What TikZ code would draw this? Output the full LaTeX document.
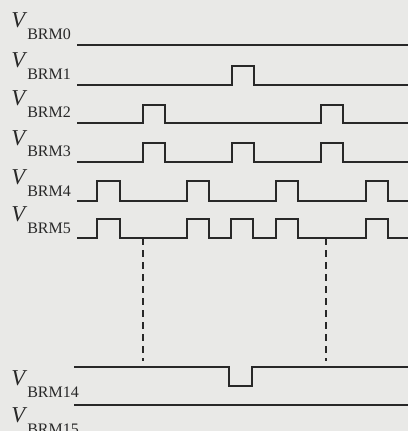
\documentclass[tikz,border=0pt]{standalone}
\usepackage{fontspec}
\setmainfont{Liberation Serif}
\definecolor{paper}{RGB}{233,233,231}
\definecolor{ink}{RGB}{40,40,40}
\newcommand{\vbrm}[1]{{\fontsize{17}{17}\selectfont\textit{V}}\raisebox{-9pt}{\fontsize{12}{12}\selectfont BRM#1}}
\tikzset{
  sig/.style={draw=ink,line width=1.6pt,line join=miter},
  lbl/.style={anchor=base west,inner sep=0pt,text=ink},
  guide/.style={draw=ink,line width=1.1pt,dash pattern=on 5pt off 4pt}
}
\begin{document}
\begin{tikzpicture}[x=0.75pt,y=-0.75pt]
\useasboundingbox[fill=paper] (0,0) rectangle (408,431);

\node[lbl] (l0) at (11,28) {\vbrm{0}};
\node[lbl] (l1) at (11,68) {\vbrm{1}};
\node[lbl] (l2) at (11,106) {\vbrm{2}};
\node[lbl] (l3) at (11,145) {\vbrm{3}};
\node[lbl] (l4) at (11,184) {\vbrm{4}};
\node[lbl] (l5) at (11,221) {\vbrm{5}};
\node[lbl] (l14) at (11,385) {\vbrm{14}};
\node[lbl] (l15) at (11,422) {\vbrm{15}};

% pulse trains
\draw[sig] (77,45) -- (408,45);
\draw[sig] (77,85) -- (232,85) -- (232,66) -- (254,66) -- (254,85) -- (408,85);
\draw[sig] (77,123) -- (143,123) -- (143,105) -- (165,105) -- (165,123)
  -- (321,123) -- (321,105) -- (343,105) -- (343,123) -- (408,123);
\draw[sig] (77,162) -- (143,162) -- (143,143) -- (165,143) -- (165,162)
  -- (232,162) -- (232,143) -- (254,143) -- (254,162)
  -- (321,162) -- (321,143) -- (343,143) -- (343,162) -- (408,162);
\draw[sig] (77,201) -- (97,201) -- (97,181) -- (120,181) -- (120,201)
  -- (187,201) -- (187,181) -- (209,181) -- (209,201)
  -- (276,201) -- (276,181) -- (298,181) -- (298,201)
  -- (366,201) -- (366,181) -- (388,181) -- (388,201) -- (408,201);
\draw[sig] (77,238) -- (97,238) -- (97,219) -- (120,219) -- (120,238)
  -- (187,238) -- (187,219) -- (209,219) -- (209,238)
  -- (231,238) -- (231,219) -- (253,219) -- (253,238)
  -- (276,238) -- (276,219) -- (298,219) -- (298,238)
  -- (366,238) -- (366,219) -- (388,219) -- (388,238) -- (408,238);
\draw[sig] (74,367) -- (229,367) -- (229,386) -- (252,386) -- (252,367) -- (408,367);
\draw[sig] (74,405) -- (408,405);

% skipped rows
\coordinate (g1a) at (143,238);
\coordinate (g1b) at (143,361);
\coordinate (g2a) at (326,238);
\coordinate (g2b) at (326,361);
\draw[guide] (g1a) -- (g1b);
\draw[guide] (g2a) -- (g2b);
\end{tikzpicture}
\end{document}
